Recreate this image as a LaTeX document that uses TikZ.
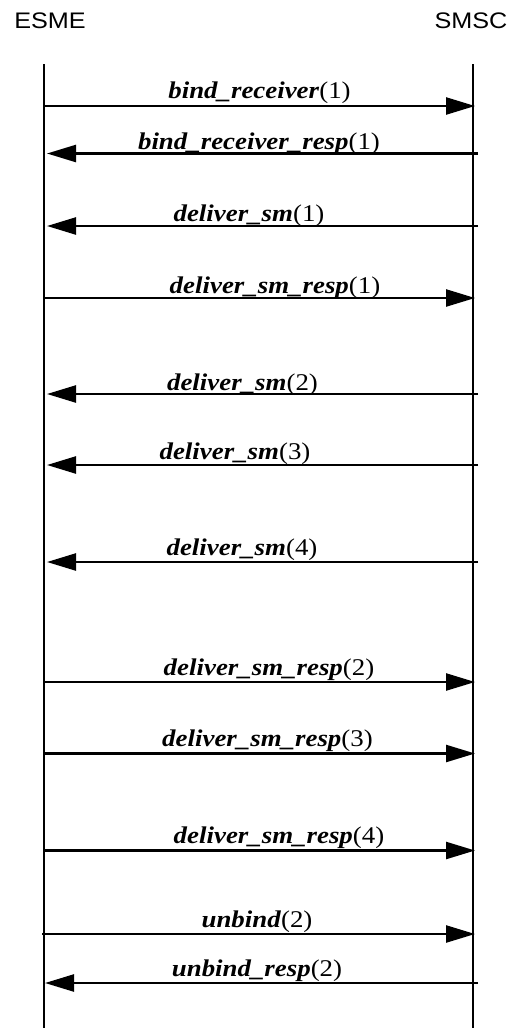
\documentclass[tikz,border=0pt]{standalone}
\usepackage{fontspec}
\usetikzlibrary{arrows.meta}
\newfontfamily\lblfont[FakeStretch=1.12]{Liberation Serif}
\newfontfamily\hdrfont[FakeStretch=1.12]{Liberation Sans}
\begin{document}
\begin{tikzpicture}[x=1pt,y=-1pt,
  lifeline/.style={line width=2.4pt},
  msg/.style={line width=2.4pt, -{Triangle[length=29pt,width=17pt]}},
  lbl/.style={anchor=base, inner sep=0pt, font=\lblfont\fontsize{24}{28}\selectfont},
  hdr/.style={anchor=base, inner sep=0pt, font=\hdrfont\fontsize{22.5}{26}\selectfont}]
\useasboundingbox (0,0) rectangle (507,1028);
% headers
\node[hdr] (esme) at (50,28.5) {ESME};
\node[hdr] (smsc) at (471,28.5) {SMSC};
% lifelines
\coordinate (eTop) at (44,64);
\coordinate (eBot) at (44,1028);
\coordinate (sTop) at (473,64);
\coordinate (sBot) at (473,1028);
\draw[lifeline] (eTop) -- (eBot);
\draw[lifeline] (sTop) -- (sBot);
% messages
\foreach \i/\y/\by/\cx/\xs/\xe/\nm/\n in {
  1/106/98.3/259.5/44/475/bind\_receiver/1,
  2/153.5/149.3/259/478/47/bind\_receiver\_resp/1,
  3/226/221.7/249/478/47/deliver\_sm/1,
  4/298/293.3/275/44/475/deliver\_sm\_resp/1,
  5/394/390.7/242.5/478/47/deliver\_sm/2,
  6/465/459.3/235/478/47/deliver\_sm/3,
  7/562/555/242/478/47/deliver\_sm/4,
  8/682/675/269/44/475/deliver\_sm\_resp/2,
  9/753.5/746.7/267.5/44/475/deliver\_sm\_resp/3,
  10/850.5/843.3/279/44/475/deliver\_sm\_resp/4,
  11/934/927.5/257/42/475/unbind/2,
  12/983/976.7/257/478/45/unbind\_resp/2}{
  \coordinate (s\i) at (\xs,\y);
  \coordinate (e\i) at (\xe,\y);
  \draw[msg] (s\i) -- (e\i);
  \node[lbl] (l\i) at (\cx,\by) {\textbf{\textit{\nm}}(\n)};
}
\end{tikzpicture}
\end{document}
